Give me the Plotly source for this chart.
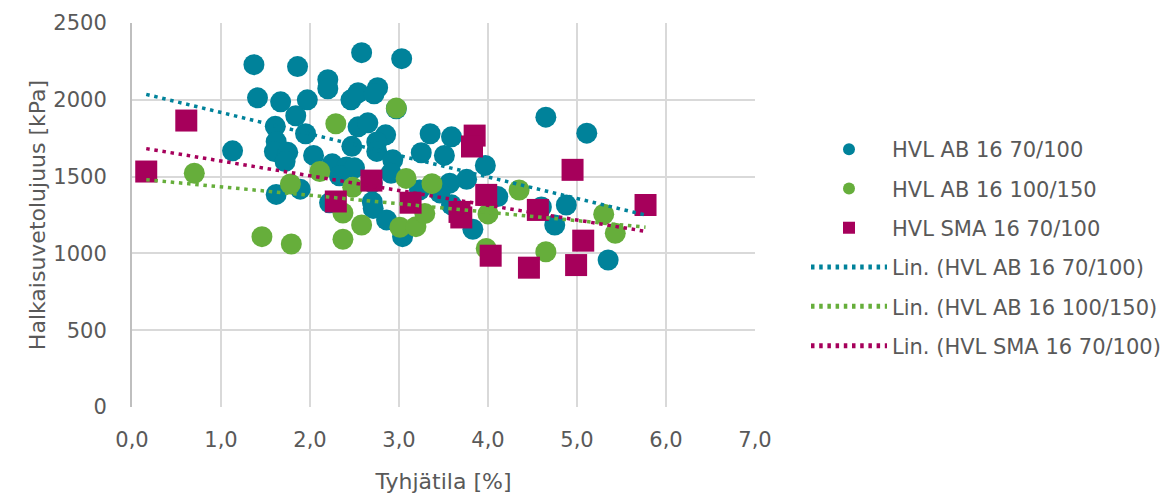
import numpy as np
import plotly.graph_objects as go

# Tyhjätila [%] and Halkaisuvetolujuus [kPa] per mixture
ab70_x = [1.37, 1.86, 2.58, 3.03, 2.20, 2.20, 1.41, 1.67, 1.97, 2.46, 2.54, 2.76, 2.72, 2.97,
          1.84, 1.61, 1.95, 2.54, 2.65, 2.85, 3.35, 3.59, 1.13, 1.62, 1.60, 1.75, 1.72, 2.04,
          2.47, 2.75, 2.75, 3.25, 3.51, 2.93, 3.97, 2.25, 2.41, 2.50, 2.33, 2.91, 3.76, 4.65,
          5.11, 1.62, 1.89, 2.22, 2.70, 2.70, 2.71, 2.86, 3.04, 3.57, 4.11, 4.88, 4.60, 4.75,
          3.83, 5.35, 3.46, 3.23, 3.59]
ab70_y = [2229, 2216, 2307, 2268, 2131, 2072, 2013, 1987, 2000, 2000, 2046, 2079, 2039, 1942,
          1896, 1827, 1779, 1824, 1850, 1772, 1779, 1759, 1668, 1728, 1663, 1658, 1598, 1638,
          1697, 1726, 1664, 1655, 1638, 1609, 1573, 1583, 1563, 1557, 1505, 1522, 1482, 1887,
          1783, 1384, 1418, 1329, 1459, 1335, 1293, 1218, 1109, 1457, 1370, 1315, 1302, 1185,
          1157, 957, 1394, 1413, 1316]

ab100_x = [0.70, 2.29, 2.97, 2.11, 1.78, 1.46, 1.79, 2.48, 2.37, 2.37, 2.58, 3.08, 3.37, 3.01,
           3.19, 3.29, 4.00, 4.35, 3.98, 4.65, 5.30, 5.43]
ab100_y = [1522, 1844, 1946, 1533, 1452, 1109, 1061, 1430, 1263, 1092, 1185, 1488, 1454, 1170,
           1174, 1260, 1257, 1413, 1032, 1011, 1255, 1131]

sma_x = [0.16, 0.61, 2.29, 2.69, 3.13, 3.85, 3.82, 3.98, 3.68, 3.70, 4.56, 4.95, 5.77, 5.07,
         4.03, 4.46, 4.99]
sma_y = [1533, 1865, 1338, 1474, 1330, 1767, 1696, 1381, 1270, 1234, 1283, 1544, 1315, 1083,
         985, 907, 924]

x_ticks = [0, 1, 2, 3, 4, 5, 6, 7]
x_tick_text = ["0,0", "1,0", "2,0", "3,0", "4,0", "5,0", "6,0", "7,0"]
y_ticks = [0, 500, 1000, 1500, 2000, 2500]

series = [
    ("HVL AB 16 70/100", ab70_x, ab70_y, "#00829A", "circle", 21),
    ("HVL AB 16 100/150", ab100_x, ab100_y, "#66AE3B", "circle", 21),
    ("HVL SMA 16 70/100", sma_x, sma_y, "#A6005B", "square", 22),
]

FONT = "DejaVu Sans"
GREY = "#595959"

fig = go.Figure()

for i, (name, xs, ys, color, symbol, size) in enumerate(series):
    fig.add_trace(go.Scatter(
        x=xs, y=ys, mode="markers", name=name, legendgroup=f"g{i}",
        marker=dict(color=color, symbol=symbol, size=size, line=dict(width=0)),
    ))

# linear trendlines across the combined x range
x_all = ab70_x + ab100_x + sma_x
x_lo, x_hi = min(x_all), max(x_all)
for i, (name, xs, ys, color, symbol, size) in enumerate(series):
    k, b = np.polyfit(xs, ys, 1)
    tx = np.array([x_lo, x_hi])
    fig.add_trace(go.Scatter(
        x=tx, y=k * tx + b, mode="lines", name=f"Lin. ({name})", legendgroup=f"g{i+3}",
        line=dict(color=color, width=3.5, dash="3.5px,4.7px"),
        hoverinfo="skip",
    ))

# plot area spans 132..755 px horizontally; legend sits to its right inside the paper
L, R = 132, 10
paper_w = 1168 - L - R
x_domain_end = 623 / paper_w

fig.update_layout(
    width=1168, height=494,
    margin=dict(l=L, r=R, t=23, b=87, autoexpand=False),
    paper_bgcolor="white", plot_bgcolor="white",
    font=dict(family=FONT, color=GREY, size=21),
    showlegend=True,
    legend=dict(
        x=(806 - L) / paper_w, xanchor="left",
        y=0.724, yanchor="top",
        font=dict(size=21, color=GREY),
        itemsizing="constant", itemwidth=76,
        tracegroupgap=9,
        bgcolor="rgba(0,0,0,0)",
    ),
    xaxis=dict(
        domain=[0, x_domain_end], automargin=False,
        range=[0, 7], tickvals=x_ticks, ticktext=x_tick_text,
        showgrid=True, gridcolor="#D9D9D9", gridwidth=2,
        zeroline=False, showline=False, ticks="",
        ticklabelstandoff=18,
        title=dict(text="Tyhjätila [%]", font=dict(size=22, color=GREY), standoff=22),
    ),
    yaxis=dict(
        automargin=False,
        range=[0, 2500], tickvals=y_ticks,
        showgrid=True, gridcolor="#D9D9D9", gridwidth=2,
        zeroline=False, showline=True, linecolor="#BFBFBF", linewidth=2, ticks="",
        ticklabelstandoff=19,
        title=dict(text="Halkaisuvetolujuus [kPa]", font=dict(size=22, color=GREY), standoff=2),
    ),
)

fig.write_html("out.html")
